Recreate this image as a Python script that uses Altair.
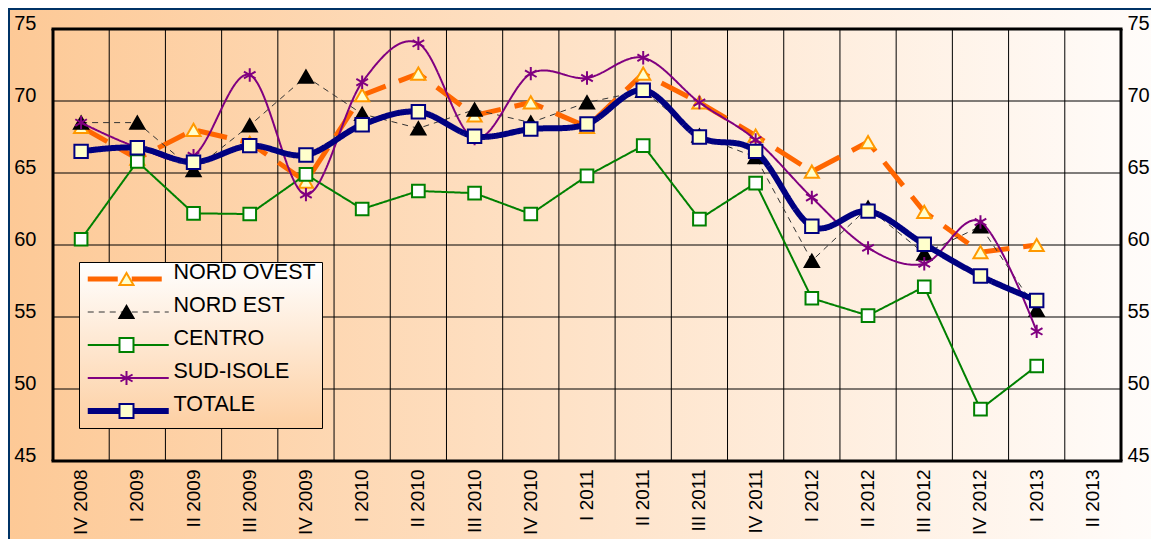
import altair as alt
import pandas as pd

periods = ["IV 2008", "I 2009", "II 2009", "III 2009", "IV 2009", "I 2010", "II 2010",
           "III 2010", "IV 2010", "I 2011", "II 2011", "III 2011", "IV 2011", "I 2012",
           "II 2012", "III 2012", "IV 2012", "I 2013", "II 2013"]

nord_ovest = [68.2, 66.0, 68.0, 67.1, 64.4, 70.4, 71.9, 69.0, 69.9, 68.2, 71.9, 69.9, 67.6, 65.1, 67.15, 62.3, 59.5, 60.0]
nord_est   = [68.5, 68.5, 65.2, 68.3, 71.7, 69.1, 68.1, 69.4, 68.5, 69.9, 70.7, 67.6, 66.1, 58.9, 62.6, 59.4, 61.3, 55.5]
centro     = [60.4, 65.8, 62.2, 62.15, 64.9, 62.5, 63.75, 63.6, 62.15, 64.8, 66.9, 61.8, 64.3, 56.3, 55.1, 57.1, 48.6, 51.6]
sud_isole  = [68.5, 66.8, 66.2, 71.8, 63.5, 71.3, 74.0, 67.4, 71.9, 71.6, 73.0, 69.9, 67.3, 63.3, 59.8, 58.7, 61.6, 54.0]
totale     = [66.5, 66.75, 65.75, 66.9, 66.25, 68.35, 69.25, 67.55, 68.05, 68.4, 70.75, 67.5, 66.5, 61.3, 62.35, 60.05, 57.85, 56.15]

series_names = ["NORD OVEST", "NORD EST", "CENTRO", "SUD-ISOLE", "TOTALE"]
series_values = [nord_ovest, nord_est, centro, sud_isole, totale]
y_ticks = [45, 50, 55, 60, 65, 70, 75]

FONT = "Liberation Sans"
LEG_FS = 21.5

rows = []
for name, vals in zip(series_names, series_values):
    for p, v in zip(periods, vals):
        rows.append({"period": p, "value": v, "series": name, "series_m": name + " m"})
df = pd.DataFrame(rows)
marker_names = [n + " m" for n in series_names]

xscale = alt.Scale(type="band", domain=periods, paddingInner=0, paddingOuter=0)
yscale = alt.Scale(domain=[45, 75], nice=False, zero=False)

line_colors = ["#FF6600", "#333333", "#008000", "#800080", "#000080"]
line_dash = [[30, 14], [6, 5], [1, 0], [1, 0], [1, 0]]
line_width = [5, 1, 2, 2, 6]
marker_shapes = ["triangle-up", "triangle-up", "square",
                 "M0,-1V1M-0.866,-0.5L0.866,0.5M-0.866,0.5L0.866,-0.5", "square"]
marker_stroke = ["#FF9900", "#000000", "#008000", "#800080", "#000080"]
marker_fill = ["#FFFFCC", "#000000", "#FFFFFF", "#800080", "#FFFFCC"]
marker_size = [200, 200, 160, 180, 180]
smooth = [False, False, False, True, True]

legend_fill = {"expr": "{gradient: 'linear', x1: 0, y1: 0, x2: 0, y2: 1, "
                       "stops: [{offset: 0, color: '#FFFFFF'}, {offset: 1, color: '#FDCFA2'}]}"}

legA = alt.Legend(orient="none", legendX=26, legendY=233, title=None, direction="vertical",
                  symbolType="M-2.667,0H24.333", symbolSize=36,
                  labelFont=FONT, labelFontSize=LEG_FS, labelColor="black",
                  labelBaseline="alphabetic", labelOffset=67, padding=6,
                  clipHeight=22, rowPadding=5,
                  strokeColor="black", fillColor=legend_fill, labelLimit=400)
legB = alt.Legend(orient="none", legendX=56.75, legendY=233, title=None, direction="vertical",
                  symbolSize=196, symbolStrokeWidth=2,
                  labelFont=FONT, labelFontSize=LEG_FS, labelExpr="''",
                  labelBaseline="alphabetic", labelOffset=67, padding=6,
                  clipHeight=22, rowPadding=5)

color_scale = alt.Scale(domain=series_names, range=line_colors)
dash_scale = alt.Scale(domain=series_names, range=line_dash)
sw_scale = alt.Scale(type="ordinal", domain=series_names, range=line_width)
shape_scale = alt.Scale(domain=marker_names, range=marker_shapes)
stroke_scale = alt.Scale(domain=marker_names, range=marker_stroke)
fill_scale = alt.Scale(domain=marker_names, range=marker_fill)

x_axis = alt.Axis(orient="bottom", title=None, labelAngle=270, labelAlign="right",
                  labelBaseline="middle", labelPadding=8, labelFont=FONT, labelFontSize=19,
                  labelColor="black", domain=False, ticks=False, grid=False,
                  labelOverlap=False, zindex=1)
left_axis = alt.Axis(orient="left", values=y_ticks, title=None, labelFont=FONT,
                     labelFontSize=20, labelColor="black", labelBaseline="alphabetic",
                     labelAlign="right", labelPadding=17, domain=False, ticks=False,
                     grid=False, zindex=1)
right_axis = alt.Axis(orient="right", values=y_ticks, title=None, labelFont=FONT,
                      labelFontSize=20, labelColor="black", labelBaseline="alphabetic",
                      labelAlign="left", labelPadding=6, domain=False, ticks=False,
                      grid=False, zindex=1)

bg = alt.Chart(pd.DataFrame({"a": [0]})).mark_rect(
    fill={"gradient": "linear", "x1": 0, "x2": 1, "y1": 0, "y2": 0,
          "stops": [{"offset": 0, "color": "#FDC996"},
                    {"offset": 0.97, "color": "#FFFBF8"},
                    {"offset": 1, "color": "#FFFCFA"}]}
).encode(x=alt.value(-43), x2=alt.value(1106), y=alt.value(-19), y2=alt.value(518))

df_y = pd.DataFrame({"v": y_ticks})
df_p = pd.DataFrame({"period": periods})

ygrid = alt.Chart(df_y).mark_rule(color="black", strokeWidth=1).encode(
    y=alt.Y("v:Q", scale=yscale, axis=left_axis))
xgrid = alt.Chart(df_p).mark_rule(color="black", strokeWidth=1).encode(
    x=alt.X("period:N", scale=xscale, bandPosition=0, axis=None))
frame_h = alt.Chart(pd.DataFrame({"v": [y_ticks[0], y_ticks[-1]]})).mark_rule(
    color="black", strokeWidth=3, strokeCap="square").encode(
    y=alt.Y("v:Q", scale=yscale, axis=right_axis))
frame_l = alt.Chart(pd.DataFrame({"period": [periods[0]]})).mark_rule(
    color="black", strokeWidth=3).encode(
    x=alt.X("period:N", scale=xscale, bandPosition=0, axis=None))
frame_r = alt.Chart(pd.DataFrame({"period": [periods[-1]]})).mark_rule(
    color="black", strokeWidth=3).encode(
    x=alt.X("period:N", scale=xscale, bandPosition=1, axis=None))

layers = [bg, xgrid, ygrid, frame_l, frame_r, frame_h]
for i, name in enumerate(series_names):
    d = df[df["series"] == name]
    if smooth[i]:
        lm = alt.Chart(d).mark_line(interpolate="cardinal", tension=0)
    else:
        lm = alt.Chart(d).mark_line()
    line = lm.encode(
        x=alt.X("period:N", scale=xscale, axis=x_axis if i == 0 else None),
        y=alt.Y("value:Q", scale=yscale, axis=None),
        color=alt.Color("series:N", scale=color_scale, legend=legA),
        strokeDash=alt.StrokeDash("series:N", scale=dash_scale, legend=legA),
        strokeWidth=alt.StrokeWidth("series:N", scale=sw_scale, legend=legA),
    )
    pts = alt.Chart(d).mark_point(size=marker_size[i], strokeWidth=2, opacity=1).encode(
        x=alt.X("period:N", scale=xscale, axis=None),
        y=alt.Y("value:Q", scale=yscale, axis=None),
        shape=alt.Shape("series_m:N", scale=shape_scale, legend=legB),
        stroke=alt.Stroke("series_m:N", scale=stroke_scale, legend=legB),
        fill=alt.Fill("series_m:N", scale=fill_scale, legend=legB),
    )
    layers += [line, pts]

chart = alt.layer(*layers).resolve_axis(x="independent", y="independent").properties(
    width=1068, height=432,
    padding={"left": 45, "top": 21, "right": 30, "bottom": 78},
    autosize=alt.AutoSizeParams(type="none"),
    background="#003366",
).configure_view(stroke="transparent")

chart.save("out.html", embed_options={"renderer": "svg", "actions": False})
